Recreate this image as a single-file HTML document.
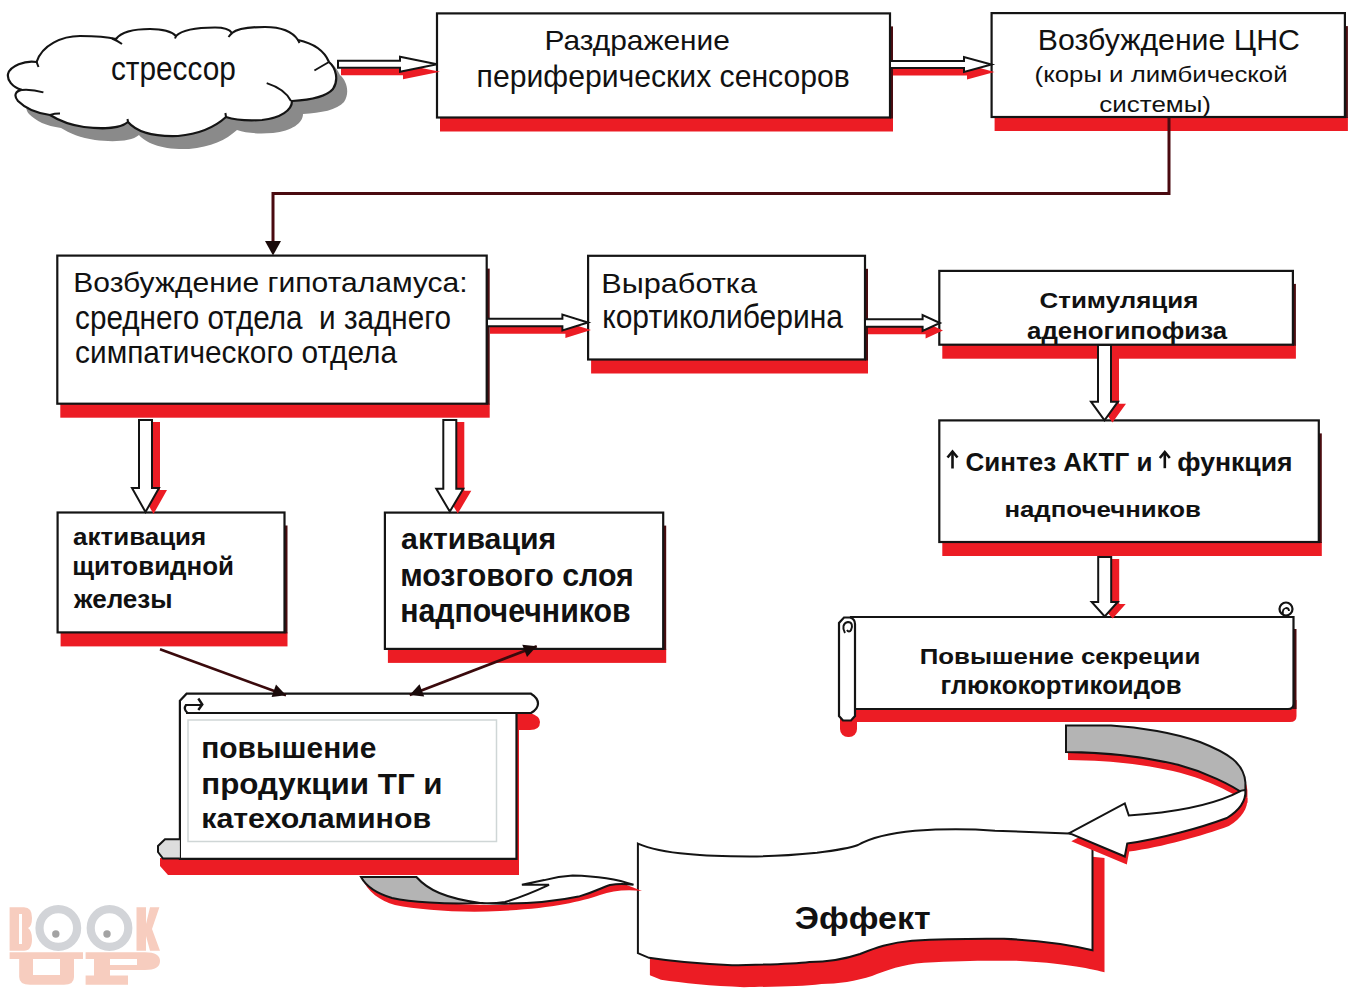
<!DOCTYPE html>
<html><head><meta charset="utf-8"><style>
html,body{margin:0;padding:0;background:#fff;overflow:hidden}
svg{display:block}
</style></head><body>
<svg width="1355" height="995" viewBox="0 0 1355 995">
<rect width="1355" height="995" fill="#fff"/>
<path d="M36.6,62 C42,45 62,36 80,36 C95,36 108,37 116,39 C122,31 135,29 150,29 C165,29 172,32 176,36 C183,29 200,27.5 215,27.5 C225,27.5 230,30 232,33 C238,28 250,27 265,27 C282,27 292,31 298,40 C312,43 324,50 329,62 C336,68 339,80 333,89 C326,97 310,100 292,101 C292,110 281,118 262,120 C245,121 235,120 226,117 C215,127 200,134 178,136 C150,137 135,130 128,122 C120,129 100,129 84,127 C70,125 58,120 50,115 C35,113 25,108 18,101 C13,95 16,91 21.7,89.9 C12,87 7,80 8,74 C10,66 25,60 36.6,62 Z" transform="translate(11,13)" fill="#8a8a8a"/>
<path d="M36.6,62 C42,45 62,36 80,36 C95,36 108,37 116,39 C122,31 135,29 150,29 C165,29 172,32 176,36 C183,29 200,27.5 215,27.5 C225,27.5 230,30 232,33 C238,28 250,27 265,27 C282,27 292,31 298,40 C312,43 324,50 329,62 C336,68 339,80 333,89 C326,97 310,100 292,101 C292,110 281,118 262,120 C245,121 235,120 226,117 C215,127 200,134 178,136 C150,137 135,130 128,122 C120,129 100,129 84,127 C70,125 58,120 50,115 C35,113 25,108 18,101 C13,95 16,91 21.7,89.9 C12,87 7,80 8,74 C10,66 25,60 36.6,62 Z" fill="#fff" stroke="#141414" stroke-width="2.2"/>
<path d="M21.7,89.9 Q32,89 43.4,92.4" fill="none" stroke="#141414" stroke-width="2"/>
<path d="M36.6,62 L38.5,67" fill="none" stroke="#141414" stroke-width="2"/>
<path d="M112,38.5 Q118,41 122,44" fill="none" stroke="#141414" stroke-width="2"/>
<path d="M176,36 L175,38.5" fill="none" stroke="#141414" stroke-width="2"/>
<path d="M232,33 Q230,35 228.5,37" fill="none" stroke="#141414" stroke-width="2"/>
<path d="M298,40 L299.5,43" fill="none" stroke="#141414" stroke-width="2"/>
<path d="M329,62 Q322,66 314.4,70.5" fill="none" stroke="#141414" stroke-width="2"/>
<path d="M266.7,83.1 Q285,89 291,101" fill="none" stroke="#141414" stroke-width="2"/>
<path d="M226,117 L225.4,113" fill="none" stroke="#141414" stroke-width="2"/>
<path d="M128,122 L127.5,119" fill="none" stroke="#141414" stroke-width="2"/>
<path d="M50,115 Q55,113.5 60,113.6" fill="none" stroke="#141414" stroke-width="2"/>
<rect x="440" y="117.5" width="453" height="14" fill="#ec1c24"/>
<rect x="890" y="26.4" width="3" height="92.1" fill="#4a0c10"/>
<rect x="437" y="13.4" width="453" height="104.1" fill="#fff" stroke="#141414" stroke-width="2.2"/>
<rect x="994.6" y="117" width="353.30000000000007" height="14" fill="#ec1c24"/>
<rect x="1344.9" y="26.1" width="3" height="91.9" fill="#4a0c10"/>
<rect x="991.6" y="13.1" width="353.30000000000007" height="103.9" fill="#fff" stroke="#141414" stroke-width="2.2"/>
<polygon points="341.0,68.2 403.0,68.2 403.0,64.2 440.0,71.7 403.0,79.2 403.0,75.2 341.0,75.2" fill="#ec1c24"/>
<polygon points="338.0,60.7 400.0,60.7 400.0,56.7 437.0,64.2 400.0,71.7 400.0,67.7 338.0,67.7" fill="#fff" stroke="#141414" stroke-width="2" stroke-linejoin="miter"/>
<polygon points="893.0,68.5 967.0,68.5 967.0,64.5 994.5,72.0 967.0,79.5 967.0,75.5 893.0,75.5" fill="#ec1c24"/>
<polygon points="890.0,61.0 964.0,61.0 964.0,57.0 991.5,64.5 964.0,72.0 964.0,68.0 890.0,68.0" fill="#fff" stroke="#141414" stroke-width="2" stroke-linejoin="miter"/>
<polyline points="1169,118 1169,193.6 273,193.6 273,246" fill="none" stroke="#4a0a10" stroke-width="3"/>
<polygon points="265,241 281,241 273,255.5" fill="#1a0a0a"/>
<rect x="60.3" y="403.7" width="429.4" height="14" fill="#ec1c24"/>
<rect x="486.7" y="268.6" width="3" height="136.1" fill="#4a0c10"/>
<rect x="57.3" y="255.6" width="429.4" height="148.1" fill="#fff" stroke="#141414" stroke-width="2.2"/>
<rect x="591.1" y="359.5" width="276.9" height="14" fill="#ec1c24"/>
<rect x="865" y="268.8" width="3" height="91.69999999999999" fill="#4a0c10"/>
<rect x="588.1" y="255.8" width="276.9" height="103.69999999999999" fill="#fff" stroke="#141414" stroke-width="2.2"/>
<rect x="942.3" y="344.7" width="353.60000000000014" height="14" fill="#ec1c24"/>
<rect x="1292.9" y="283.9" width="3" height="61.80000000000001" fill="#4a0c10"/>
<rect x="939.3" y="270.9" width="353.60000000000014" height="73.80000000000001" fill="#fff" stroke="#141414" stroke-width="2.2"/>
<rect x="942.3" y="542" width="379.5" height="14" fill="#ec1c24"/>
<rect x="1318.8" y="433.4" width="3" height="109.60000000000002" fill="#4a0c10"/>
<rect x="939.3" y="420.4" width="379.5" height="121.60000000000002" fill="#fff" stroke="#141414" stroke-width="2.2"/>
<polygon points="490.0,326.3 565.4,326.3 565.4,322.0 591.0,330.0 565.4,338.0 565.4,333.7 490.0,333.7" fill="#ec1c24"/>
<polygon points="487.0,318.8 562.4,318.8 562.4,314.5 588.0,322.5 562.4,330.5 562.4,326.2 487.0,326.2" fill="#fff" stroke="#141414" stroke-width="2" stroke-linejoin="miter"/>
<polygon points="868.0,326.8 925.6,326.8 925.6,322.5 943.0,330.5 925.6,338.5 925.6,334.2 868.0,334.2" fill="#ec1c24"/>
<polygon points="865.0,319.3 922.6,319.3 922.6,315.0 940.0,323.0 922.6,331.0 922.6,326.7 865.0,326.7" fill="#fff" stroke="#141414" stroke-width="2" stroke-linejoin="miter"/>
<polygon points="1106.0,347.0 1119.0,347.0 1119.0,403.7 1126.0,403.7 1112.5,422.4 1099.0,403.7 1106.0,403.7" fill="#ec1c24"/>
<polygon points="1098.0,345.0 1111.0,345.0 1111.0,401.7 1118.0,401.7 1104.5,420.4 1091.0,401.7 1098.0,401.7" fill="#fff" stroke="#141414" stroke-width="2" stroke-linejoin="miter"/>
<rect x="60.6" y="632.4" width="226.9" height="14" fill="#ec1c24"/>
<rect x="284.5" y="525.5" width="3" height="107.89999999999998" fill="#4a0c10"/>
<rect x="57.6" y="512.5" width="226.9" height="119.89999999999998" fill="#fff" stroke="#141414" stroke-width="2.2"/>
<rect x="387.9" y="648.9" width="278.30000000000007" height="14" fill="#ec1c24"/>
<rect x="663.2" y="525.6" width="3" height="124.29999999999995" fill="#4a0c10"/>
<rect x="384.9" y="512.6" width="278.30000000000007" height="136.29999999999995" fill="#fff" stroke="#141414" stroke-width="2.2"/>
<polygon points="147.0,422.0 160.0,422.0 160.0,490.0 167.0,490.0 153.5,514.0 140.0,490.0 147.0,490.0" fill="#ec1c24"/>
<polygon points="139.0,420.0 152.0,420.0 152.0,488.0 159.0,488.0 145.5,512.0 132.0,488.0 139.0,488.0" fill="#fff" stroke="#141414" stroke-width="2" stroke-linejoin="miter"/>
<polygon points="451.3,422.0 464.3,422.0 464.3,490.7 471.3,490.7 457.8,513.6 444.3,490.7 451.3,490.7" fill="#ec1c24"/>
<polygon points="443.3,420.0 456.3,420.0 456.3,488.7 463.3,488.7 449.8,511.6 436.3,488.7 443.3,488.7" fill="#fff" stroke="#141414" stroke-width="2" stroke-linejoin="miter"/>
<path d="M853,700 H1296.5 V716 Q1296.5,722 1290,722 H853 Z" fill="#ec1c24"/>
<rect x="1293" y="629" width="3.5" height="80" fill="#4a0c10"/>
<rect x="840" y="706" width="17" height="31" rx="8" fill="#ec1c24"/>
<path d="M851,617 H1293.5 V704 Q1293.5,709 1288,709 H851 Z" fill="#fff" stroke="#141414" stroke-width="2.2"/>
<path d="M844,617.5 H850 Q855,619 855,624 V716 L851,720.5 H843 L839,716 V623 Z" fill="#fff" stroke="#141414" stroke-width="2.2"/>
<path d="M845,633 C842,628 843,623 848,622 C852,622 853,626 851,630 C850,632 848,632 847,630" fill="none" stroke="#141414" stroke-width="2"/>
<circle cx="1286" cy="609" r="6.5" fill="#fff" stroke="#141414" stroke-width="2.2"/>
<path d="M1283,614 q-1,-5 3,-6 q3,0 3,3" fill="none" stroke="#141414" stroke-width="1.8"/>
<polygon points="1106.2,559.0 1119.2,559.0 1119.2,604.0 1125.7,604.0 1112.7,618.5 1099.7,604.0 1106.2,604.0" fill="#ec1c24"/>
<polygon points="1098.2,557.0 1111.2,557.0 1111.2,602.0 1117.7,602.0 1104.7,616.5 1091.7,602.0 1098.2,602.0" fill="#fff" stroke="#141414" stroke-width="2" stroke-linejoin="miter"/>
<path d="M160,858 H517 V713 H530 Q540,716 540,722 Q540,730 530,730 H519 V875 H168 L160,866 Z" fill="#ec1c24"/>
<path d="M179.9,700.7 L186.6,693.7 H531 Q538,698 538,703.5 Q538,709 531,713 H516.5 V858.8 H179.9 Z" fill="#fff" stroke="#141414" stroke-width="2.2"/>
<line x1="186" y1="713" x2="516.5" y2="713" stroke="#141414" stroke-width="2.2"/>
<path d="M187.5,713 Q183,709 186,705 L201,705" fill="none" stroke="#141414" stroke-width="2.2"/>
<path d="M198.3,698.5 L202.3,704.5 L198.3,710" fill="none" stroke="#141414" stroke-width="2.4"/>
<path d="M179.9,839.3 H165 L158,846 V852 L163,858.5 H179.9" fill="#ddd" stroke="#141414" stroke-width="2"/>
<rect x="188" y="720" width="308.5" height="121.5" fill="none" stroke="#cfd6d6" stroke-width="1.5"/>
<line x1="160" y1="649.3" x2="286" y2="695.2" stroke="#3a0a0c" stroke-width="2.6"/>
<polygon points="286,695.2 271.6,696.9 276.0,684.6" fill="#1a0a0a"/>
<line x1="409.7" y1="695" x2="536.8" y2="646.2" stroke="#3a0a0c" stroke-width="2.6"/>
<polygon points="536.8,646.2 527.0,656.9 522.3,644.8" fill="#1a0a0a"/>
<polygon points="409.7,695 419.5,684.3 424.2,696.4" fill="#1a0a0a"/>
<path d="M637.9,843.6 C648,848 665,852 688,854.1 C705,856 725,856.5 750,856.5 C780,856.5 800,854.5 817,852.8 C835,850.5 850,848 858,845 C870,838 885,833.5 915,830.7 C940,829 965,828.5 995,830.7 L1068.5,833.5 L1092.5,836 V950.3 C1075,946 1050,941 1004,938.8 C975,938.5 950,938.5 912,940.7 C890,942.5 875,948 860,954 C845,959 825,962 809.5,962 C790,964.5 770,964.5 732,965.2 C700,964 670,961 649,957.8 L637.9,953.2 Z" transform="translate(12,22)" fill="#ec1c24"/>
<path d="M637.9,843.6 C648,848 665,852 688,854.1 C705,856 725,856.5 750,856.5 C780,856.5 800,854.5 817,852.8 C835,850.5 850,848 858,845 C870,838 885,833.5 915,830.7 C940,829 965,828.5 995,830.7 L1068.5,833.5 L1092.5,836 V950.3 C1075,946 1050,941 1004,938.8 C975,938.5 950,938.5 912,940.7 C890,942.5 875,948 860,954 C845,959 825,962 809.5,962 C790,964.5 770,964.5 732,965.2 C700,964 670,961 649,957.8 L637.9,953.2 Z" fill="#fff" stroke="#141414" stroke-width="2"/>
<path d="M1066,725.5 L1111,725.5 C1140,727 1175,733 1200,742 C1228,753 1244,763 1245.4,782.5 L1245.4,795 C1232,785 1205,772 1178,764.8 C1150,758 1117,752.5 1066,752 Z" transform="translate(2,8)" fill="#ec1c24"/>
<path d="M1241.4,790.6 C1220,802 1190,810 1146.5,814 L1128.8,815.5 L1124.8,803.4 L1069.3,833.2 L1124.8,856.5 L1127.2,843.6 C1160,839 1200,828 1226.9,818 C1240,810 1246,800 1245.4,790 Z" transform="translate(2,8)" fill="#ec1c24"/>
<path d="M1066,725.5 L1111,725.5 C1140,727 1175,733 1200,742 C1228,753 1244,763 1245.4,782.5 L1245.4,795 C1232,785 1205,772 1178,764.8 C1150,758 1117,752.5 1066,752 Z" fill="#b4b4b4" stroke="#141414" stroke-width="2"/>
<path d="M1241.4,790.6 C1220,802 1190,810 1146.5,814 L1128.8,815.5 L1124.8,803.4 L1069.3,833.2 L1124.8,856.5 L1127.2,843.6 C1160,839 1200,828 1226.9,818 C1240,810 1246,800 1245.4,790 Z" fill="#fff" stroke="#141414" stroke-width="2"/>
<path d="M361,877 C366,886 375,893 390,898 C410,902 440,904 490,904.9 C530,904 560,900 590,892 C600,888 610,884 623,883.6 L642,891 C625,889 612,891 600,895 C580,902 550,908.5 500,911 C460,913 420,910 395,905 C380,901 368,892 361,877 Z" fill="#ec1c24"/>
<path d="M361,877 L416.4,877 C428,890 445,898 480,903 C445,904.5 410,902 392,898 C375,893 366,886 361,877 Z" fill="#b4b4b4" stroke="#141414" stroke-width="2"/>
<path d="M480,903 C520,905 555,901.5 578.6,896.6 C595,892 603,887 610,885 C618,883.5 626,883.8 633.5,884.8 C620,880 600,876 572.7,875.4 C562,876 552,878 544.3,880.1 L521.9,884.8 L549,884.8 C540,889 525,896 505,902 C495,903.5 488,903.5 480,903 Z" fill="#fff" stroke="#141414" stroke-width="2"/>
<g fill="#f7cdbf"><path d="M9.6,907.3 H24 Q32,907.3 32,918 Q32,926 28,928 Q32,931 32,939 Q32,950.8 24,950.8 H9.6 Z M19,914 V944 H22 V914 Z" fill-rule="evenodd"/><path d="M136.5,907.3 H146 V924 L150,907.3 H159.4 L152,929 L160,950.8 H150 L146,936 V950.8 H136.5 Z"/><path d="M9.6,952.3 H83 V959 H74 V977 Q74,984.8 64,984.8 H30 Q19.2,984.8 19.2,977 V959 H9.6 Z M33,959 V975 H60 V959 Z" fill-rule="evenodd"/><path d="M85.6,952.3 H145 Q160,952.3 160,961 Q160,970 145,970 H110 V975.5 H128 V984.8 H85.6 V975.5 H94 V959 H85.6 Z M110,959 V965 H137 V959 Z" fill-rule="evenodd"/></g>
<circle cx="58.3" cy="928" r="18.8" fill="none" stroke="#d2d4d8" stroke-width="8.2"/>
<circle cx="109.5" cy="928" r="18.8" fill="none" stroke="#d2d4d8" stroke-width="8.2"/>
<circle cx="55.8" cy="934" r="3.7" fill="#a3a3a3"/>
<circle cx="107" cy="934" r="3.7" fill="#a3a3a3"/>
<path d="M952.5,468.5 V452.5" stroke="#111" stroke-width="2.6" fill="none"/>
<path d="M947.5,457.5 L952.5,451.5 L957.5,457.5" stroke="#111" stroke-width="2.6" fill="none" stroke-linejoin="miter"/>
<path d="M1164.8,468.2 V453" stroke="#111" stroke-width="2.6" fill="none"/>
<path d="M1159.8,458 L1164.8,452 L1169.8,458" stroke="#111" stroke-width="2.6" fill="none" stroke-linejoin="miter"/>
<g font-family="Liberation Sans, sans-serif" fill="#111">
<text xml:space="preserve" x="110.94" y="80.4" font-size="32.77" font-weight="400" textLength="124.96" lengthAdjust="spacingAndGlyphs">стрессор</text>
<text xml:space="preserve" x="544.46" y="49.6" font-size="27.91" font-weight="400" textLength="185.44" lengthAdjust="spacingAndGlyphs">Раздражение</text>
<text xml:space="preserve" x="476.62" y="87.0" font-size="32.20" font-weight="400" textLength="373.28" lengthAdjust="spacingAndGlyphs">периферических сенсоров</text>
<text xml:space="preserve" x="1037.88" y="50.0" font-size="29.80" font-weight="400" textLength="261.97" lengthAdjust="spacingAndGlyphs">Возбуждение ЦНС</text>
<text xml:space="preserve" x="1034.62" y="82.4" font-size="21.97" font-weight="400" textLength="252.97" lengthAdjust="spacingAndGlyphs">(коры и лимбической</text>
<text xml:space="preserve" x="1099.36" y="111.9" font-size="21.21" font-weight="400" textLength="111.65" lengthAdjust="spacingAndGlyphs">системы)</text>
<text xml:space="preserve" x="73.25" y="292.2" font-size="27.91" font-weight="400" textLength="394.40" lengthAdjust="spacingAndGlyphs">Возбуждение гипоталамуса:</text>
<text xml:space="preserve" x="75.10" y="328.6" font-size="33.14" font-weight="400" textLength="375.80" lengthAdjust="spacingAndGlyphs">среднего отдела  и заднего</text>
<text xml:space="preserve" x="75.10" y="363.3" font-size="32.20" font-weight="400" textLength="321.90" lengthAdjust="spacingAndGlyphs">симпатического отдела</text>
<text xml:space="preserve" x="601.30" y="292.7" font-size="28.49" font-weight="400" textLength="155.65" lengthAdjust="spacingAndGlyphs">Выработка</text>
<text xml:space="preserve" x="602.20" y="327.8" font-size="32.77" font-weight="400" textLength="240.80" lengthAdjust="spacingAndGlyphs">кортиколиберина</text>
<text xml:space="preserve" x="1039.52" y="307.8" font-size="22.97" font-weight="700" textLength="158.86" lengthAdjust="spacingAndGlyphs">Стимуляция</text>
<text xml:space="preserve" x="1027.10" y="339.3" font-size="23.67" font-weight="700" textLength="199.95" lengthAdjust="spacingAndGlyphs">аденогипофиза</text>
<text xml:space="preserve" x="965.52" y="470.5" font-size="25.15" font-weight="700" textLength="186.86" lengthAdjust="spacingAndGlyphs">Синтез АКТГ и</text>
<text xml:space="preserve" x="1177.31" y="470.5" font-size="25.15" font-weight="700" textLength="115.28" lengthAdjust="spacingAndGlyphs">функция</text>
<text xml:space="preserve" x="1004.41" y="517.3" font-size="22.73" font-weight="700" textLength="196.44" lengthAdjust="spacingAndGlyphs">надпочечников</text>
<text xml:space="preserve" x="919.78" y="663.8" font-size="22.53" font-weight="700" textLength="280.60" lengthAdjust="spacingAndGlyphs">Повышение секреции</text>
<text xml:space="preserve" x="940.62" y="693.7" font-size="26.14" font-weight="700" textLength="241.07" lengthAdjust="spacingAndGlyphs">глюкокортикоидов</text>
<text xml:space="preserve" x="73.10" y="545.2" font-size="24.24" font-weight="700" textLength="133.12" lengthAdjust="spacingAndGlyphs">активация</text>
<text xml:space="preserve" x="72.20" y="574.5" font-size="25.00" font-weight="700" textLength="161.81" lengthAdjust="spacingAndGlyphs">щитовидной</text>
<text xml:space="preserve" x="74.00" y="607.7" font-size="25.00" font-weight="700" textLength="98.59" lengthAdjust="spacingAndGlyphs">железы</text>
<text xml:space="preserve" x="401.10" y="549.3" font-size="29.73" font-weight="700" textLength="155.12" lengthAdjust="spacingAndGlyphs">активация</text>
<text xml:space="preserve" x="400.20" y="585.7" font-size="32.20" font-weight="700" textLength="233.60" lengthAdjust="spacingAndGlyphs">мозгового слоя</text>
<text xml:space="preserve" x="400.20" y="621.8" font-size="32.77" font-weight="700" textLength="230.44" lengthAdjust="spacingAndGlyphs">надпочечников</text>
<text xml:space="preserve" x="201.25" y="757.7" font-size="29.73" font-weight="700" textLength="175.07" lengthAdjust="spacingAndGlyphs">повышение</text>
<text xml:space="preserve" x="201.25" y="794.0" font-size="29.73" font-weight="700" textLength="241.34" lengthAdjust="spacingAndGlyphs">продукции ТГ и</text>
<text xml:space="preserve" x="201.25" y="828.3" font-size="28.41" font-weight="700" textLength="229.81" lengthAdjust="spacingAndGlyphs">катехоламинов</text>
<text xml:space="preserve" x="794.78" y="929.2" font-size="30.96" font-weight="700" textLength="135.86" lengthAdjust="spacingAndGlyphs">Эффект</text>
</g>
</svg>
</body></html>
